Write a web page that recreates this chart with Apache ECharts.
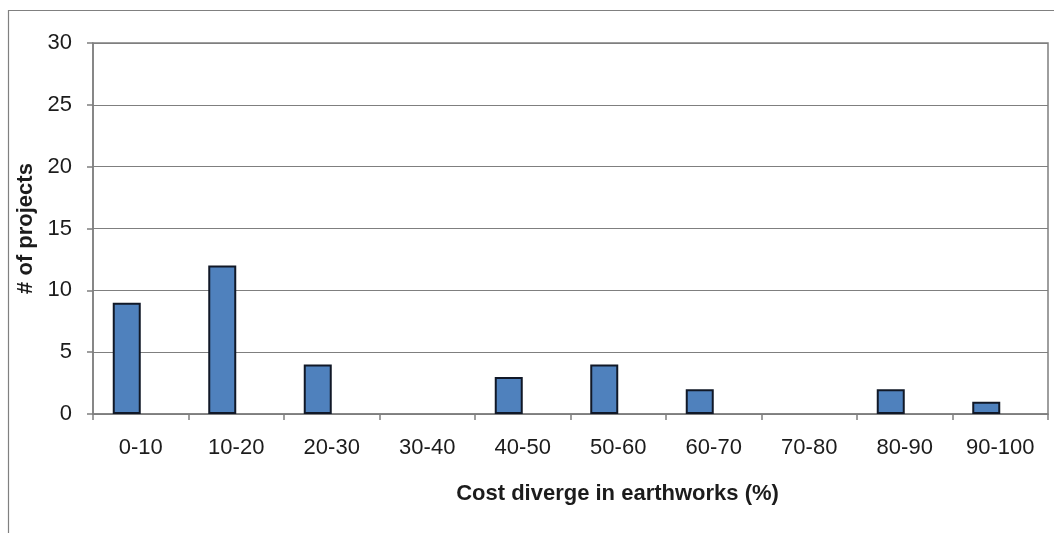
<!DOCTYPE html>
<html>
<head>
<meta charset="utf-8">
<script src="https://cdn.jsdelivr.net/npm/echarts@6/dist/echarts.min.js"></script>
<style>
  html, body { margin: 0; padding: 0; background: #ffffff; }
  #chart { width: 1054px; height: 533px; }
</style>
</head>
<body>
<div id="chart"></div>
<script>
// Histogram of cost divergence in earthworks
const categories = ['0-10', '10-20', '20-30', '30-40', '40-50', '50-60', '60-70', '70-80', '80-90', '90-100'];
const projectCounts = [9, 12, 4, 0, 3, 4, 2, 0, 2, 1];
const yTicks = { min: 0, max: 30, interval: 5 };

const chart = echarts.init(document.getElementById('chart'), null, { renderer: 'canvas' });

const textColor = '#1c1c1c';
const lineColor = '#7f7f7f';
const font = 'Liberation Sans, Arial, sans-serif';

chart.setOption({
  animation: false,
  backgroundColor: '#ffffff',
  graphic: [{
    type: 'rect',
    shape: { x: 8.5, y: 10.5, width: 1200, height: 700 },
    style: { fill: 'none', stroke: '#808080', lineWidth: 1.2 },
    silent: true,
    z: -1
  }],
  grid: { left: 93, right: 6, top: 43, bottom: 119, show: true, borderColor: lineColor, borderWidth: 1.5, backgroundColor: 'transparent' },
  xAxis: {
    type: 'category',
    data: categories,
    boundaryGap: true,
    name: 'Cost diverge in earthworks (%)',
    nameLocation: 'middle',
    nameGap: 69,
    // title sits a little right of the plot centre
    nameTextStyle: { fontFamily: font, fontSize: 22, fontWeight: 'bold', color: textColor, padding: [0, 0, 0, 94] },
    axisLine: { lineStyle: { color: lineColor, width: 1.5 } },
    axisTick: { show: true, alignWithLabel: false, length: 6, inside: false, lineStyle: { color: lineColor, width: 1.5 } },
    axisLabel: { fontFamily: font, fontSize: 22, color: textColor, margin: 23 }
  },
  yAxis: {
    type: 'value',
    min: yTicks.min,
    max: yTicks.max,
    interval: yTicks.interval,
    name: '# of projects',
    nameLocation: 'middle',
    nameGap: 55,
    nameRotate: 90,
    nameTextStyle: { fontFamily: font, fontSize: 22, fontWeight: 'bold', color: textColor },
    axisLine: { show: true, lineStyle: { color: lineColor, width: 1.5 } },
    axisTick: { show: true, length: 6, lineStyle: { color: lineColor, width: 1.5 } },
    axisLabel: { fontFamily: font, fontSize: 22, color: textColor, margin: 21 },
    splitLine: { lineStyle: { color: lineColor, width: 1.2 } }
  },
  series: [
    {
      type: 'bar',
      // empty bins draw no bar at all
      data: projectCounts.map(v => (v === 0 ? '-' : v)),
      barWidth: 28,
      barGap: '0%',
      itemStyle: { color: '#4f81bd', borderColor: '#111827', borderWidth: 2 }
    },
    {
      // empty companion series keeps the bars offset within each bin
      type: 'bar',
      data: categories.map(() => null),
      barWidth: 28,
      barGap: '0%'
    }
  ]
});
</script>
</body>
</html>
